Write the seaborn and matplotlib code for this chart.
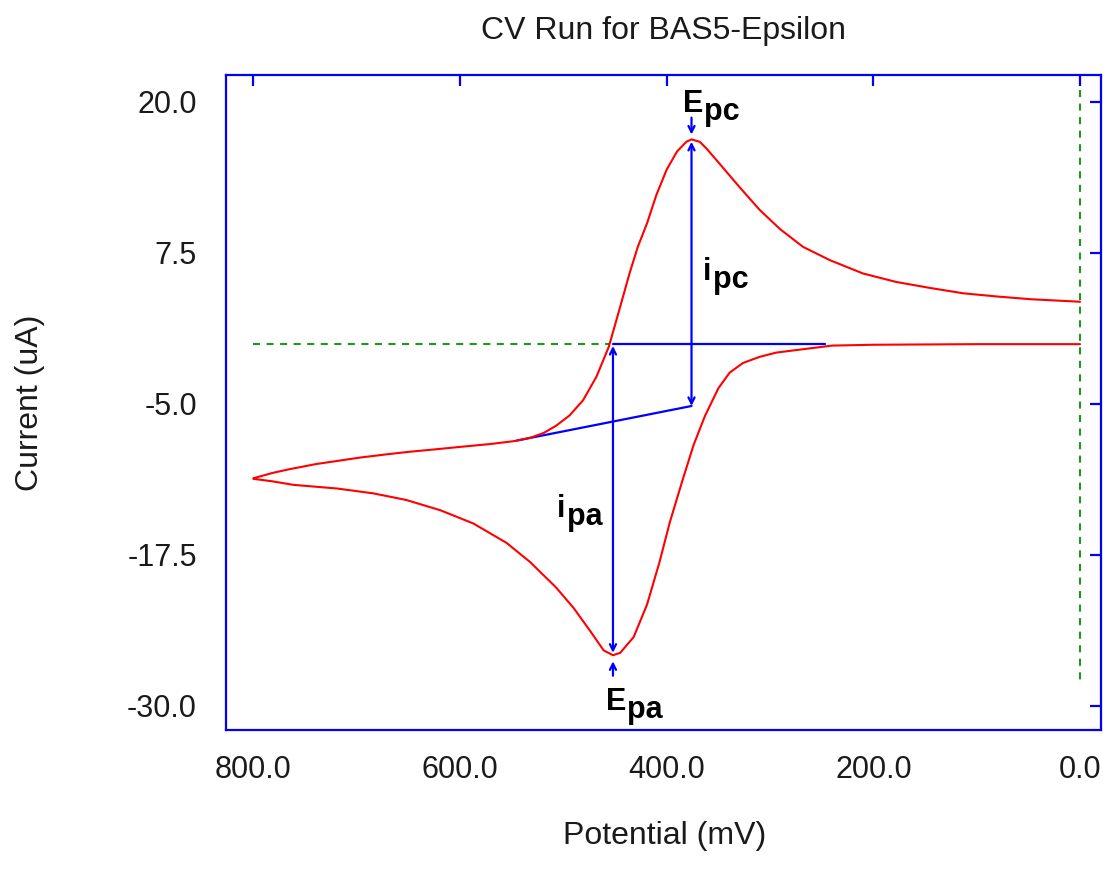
import numpy as np
import pandas as pd
import matplotlib
matplotlib.use("Agg")
import matplotlib.pyplot as plt
import seaborn as sns

# ---------------- data ----------------
# forward (anodic) sweep: 0 -> 800 mV
fwd_potential = [0, 100, 200, 240, 271, 294, 310, 326, 339, 350, 363, 374, 385,
                 397, 407, 419, 432, 445, 452, 461, 474, 490, 507, 532, 555,
                 587, 619, 652, 684, 719, 761, 782, 800]
fwd_current = [-0.05, -0.05, -0.1, -0.17, -0.5, -0.75, -1.1, -1.6, -2.4, -3.7,
               -6.0, -8.4, -11.4, -14.8, -18.1, -21.6, -24.3, -25.6, -25.8,
               -25.4, -23.8, -21.9, -20.2, -18.1, -16.5, -14.9, -13.8, -12.95,
               -12.4, -12.0, -11.7, -11.4, -11.2]
# reverse (cathodic) sweep: 800 -> 0 mV
rev_potential = [800, 781, 765, 739, 719, 697, 671, 648, 623, 597, 571, 548,
                 532, 519, 507, 494, 481, 468, 456, 445, 436, 428, 419, 410,
                 400, 390, 381, 376, 368, 361, 348, 329, 310, 290, 268, 242,
                 210, 178, 145, 113, 81, 48, 2, 0]
rev_current = [-11.15, -10.7, -10.4, -9.97, -9.72, -9.44, -9.17, -8.95, -8.75,
               -8.53, -8.32, -8.08, -7.8, -7.4, -6.8, -5.95, -4.7, -2.75,
               -0.26, 3.05, 5.8, 8.0, 9.96, 12.3, 14.4, 15.9, 16.7, 16.9, 16.7,
               16.1, 14.8, 12.9, 11.06, 9.45, 8.0, 6.9, 5.8, 5.1, 4.6, 4.16,
               3.9, 3.67, 3.47, 3.45]

# peak annotations
E_pc, I_pc, I_pc_base = 376, 16.7, -5.17
E_pa, I_pa, I_pa_base = 452, -25.6, -0.2
# baselines
flat_base_x = [452, 247]
flat_base_y = [0, 0]
slope_base_x = [545, 376]
slope_base_y = [-8.03, -5.17]
zero_line_x = [800, 455]
zero_line_y = [0, 0]
vert_line_x = [0, 0]
vert_line_y = [21, -28]

xticks = [800, 600, 400, 200, 0]
xticklabels = ["800.0", "600.0", "400.0", "200.0", "0.0"]
yticks = [20, 7.5, -5, -17.5, -30]
yticklabels = ["20.0", "7.5", "-5.0", "-17.5", "-30.0"]

# ---------------- style ----------------
sns.set_theme(style="white")
plt.rcParams["font.family"] = ["Liberation Sans", "DejaVu Sans"]
plt.rcParams["axes.unicode_minus"] = False

BLUE = "#0000FF"
RED = "#FF0000"
GREEN = "#1f961f"
TXT = "#1a1a1a"

fig = plt.figure(figsize=(11.03, 8.77), dpi=100)
ax = fig.add_axes([226 / 1103, 1 - 730 / 877, (1101 - 226) / 1103, (730 - 75) / 877])

# green dashed reference lines
ax.plot(zero_line_x, zero_line_y, color=GREEN, lw=1.5, dashes=(3.4, 3.1), zorder=2)
ax.plot(vert_line_x, vert_line_y, color=GREEN, lw=1.5, dashes=(3.4, 3.1), zorder=2)

# blue baselines
ax.plot(flat_base_x, flat_base_y, color=BLUE, lw=1.6, zorder=3)
ax.plot(slope_base_x, slope_base_y, color=BLUE, lw=1.6, zorder=3)

# CV curve
df = pd.DataFrame({
    "potential": fwd_potential + rev_potential,
    "current": fwd_current + rev_current,
})
sns.lineplot(data=df, x="potential", y="current", sort=False, estimator=None,
             color=RED, lw=1.5, ax=ax, zorder=4)

# arrows
arrow_kw = dict(color=BLUE, lw=1.6, shrinkA=0, shrinkB=0, mutation_scale=11)
ax.annotate("", xy=(E_pc, I_pc), xytext=(E_pc, I_pc_base),
            arrowprops=dict(arrowstyle="<->", **arrow_kw), zorder=5)
ax.annotate("", xy=(E_pa, I_pa), xytext=(E_pa, I_pa_base),
            arrowprops=dict(arrowstyle="<->", **arrow_kw), zorder=5)
ax.annotate("", xy=(E_pc, 17.3), xytext=(E_pc, 18.7),
            arrowprops=dict(arrowstyle="->", **arrow_kw), zorder=5)
ax.annotate("", xy=(E_pa, -26.3), xytext=(E_pa, -27.5),
            arrowprops=dict(arrowstyle="->", **arrow_kw), zorder=5)


# labels on the plot: main letter + lowered subscript of the same size
def sub_label(x, y, main, sub, main_w_pt):
    kw = dict(fontsize=22, fontweight="bold", color="black", ha="left",
              va="baseline", zorder=6)
    ax.text(x, y, main, **kw)
    ax.annotate(sub, xy=(x, y), xytext=(main_w_pt, -6), textcoords="offset points",
                **kw)


sub_label(384.5, 19.2, "E", "pc", 15.5)
sub_label(365, 5.3, "i", "pc", 7.0)
sub_label(506, -14.35, "i", "pa", 7.0)
sub_label(459, -30.3, "E", "pa", 15.5)

# axes
ax.set_xlim(826.5, -20.3)
ax.set_ylim(-31.99, 22.23)
ax.set_xticks(xticks)
ax.set_xticklabels(xticklabels)
ax.set_yticks(yticks)
ax.set_yticklabels(yticklabels)
ax.tick_params(axis="both", direction="in", length=8, width=1.6, color=BLUE,
               top=True, right=True, labelsize=22, labelcolor=TXT)
ax.tick_params(axis="x", pad=18)
ax.tick_params(axis="y", pad=21)
for sp in ax.spines.values():
    sp.set_color(BLUE)
    sp.set_linewidth(1.6)
    sp.set_visible(True)
ax.grid(False)
ax.set_facecolor("white")

ax.set_xlabel("Potential (mV)", fontsize=23, color=TXT)
ax.xaxis.label.set(va="baseline")
ax.xaxis.set_label_coords((665 - 226) / 875, (730 - 844) / 655)
ax.set_ylabel("Current (uA)", fontsize=23, color=TXT)
ax.yaxis.label.set(ha="center", va="center", rotation_mode="default")
ax.yaxis.set_label_coords((30 - 226) / 875, 0.5)
fig.text(663.5 / 1103, 1 - 39 / 877, "CV Run for BAS5-Epsilon", fontsize=23,
         color=TXT, ha="center", va="baseline")

fig.savefig("out.png", dpi=100, facecolor="white")
